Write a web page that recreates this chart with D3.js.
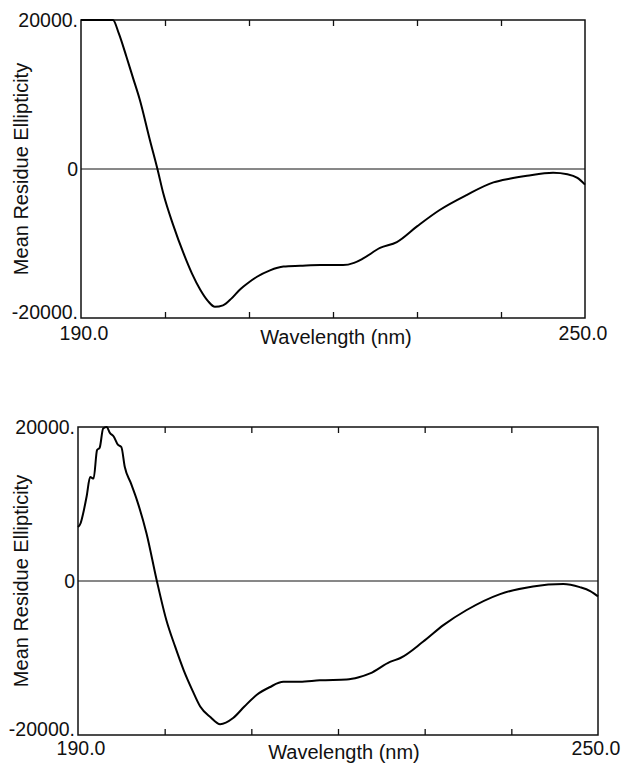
<!DOCTYPE html>
<html>
<head>
<meta charset="utf-8">
<script src="https://cdn.jsdelivr.net/npm/d3@7"></script>
<style>
  body { margin: 0; background: #fff; }
  svg { display: block; font-family: "Liberation Sans", Arial, sans-serif; }
</style>
</head>
<body>
<div id="chart"></div>
<script>
// CD spectra, wavelength (nm) vs mean residue ellipticity
const wlTop = [190, 191, 192, 193, 193.8, 194.5, 195.4, 196.2, 197.0, 198.2, 199.1, 199.8, 201.0, 202.2, 203.2, 204.2, 205.1, 205.95, 206.9, 207.9, 208.9, 210.0, 210.9, 212.5, 214.1, 216.1, 218.5, 221.2, 222.5, 223.6, 225.6, 227.6, 230.0, 232.7, 235.9, 239.1, 241.0, 243.1, 246.2, 247.9, 249.1, 250];
const mreTop = [20000, 20000, 20000, 20000, 20000, 18200, 15100, 12200, 9300, 3900, 0, -3300, -7600, -11300, -14000, -16200, -17700, -18500, -18300, -17400, -16200, -15200, -14500, -13600, -13100, -13000, -12900, -12900, -12600, -12000, -10600, -9800, -7700, -5500, -3500, -1800, -1300, -900, -500, -700, -1200, -2100];

const wlBottom = [190, 190.3, 190.6, 191.0, 191.4, 191.8, 192.2, 192.5, 192.9, 193.3, 193.7, 194.1, 194.6, 195.0, 195.4, 196.1, 196.8, 197.9, 199.1, 200.2, 201.2, 202.2, 203.2, 204.1, 205.3, 206.4, 207.9, 209.2, 210.6, 212.1, 213.7, 215.6, 217.9, 221.0, 222.4, 223.7, 226.0, 227.2, 229.8, 232.2, 234.8, 238.7, 242.5, 246.0, 247.9, 249.1, 250];
const mreBottom = [7000, 7500, 8800, 11000, 13500, 13300, 17000, 17300, 19800, 20000, 19200, 18800, 17700, 17400, 14800, 12700, 10500, 6200, 0, -5100, -8500, -11600, -14200, -16300, -17700, -18600, -17800, -16300, -14800, -13800, -13100, -13100, -12900, -12800, -12500, -12000, -10500, -10000, -7900, -5700, -3800, -1700, -700, -400, -800, -1300, -2000];

const xTicks = [200, 210, 220, 230, 240];
const yTickLabels = [[20000, "20000."], [0, "0"], [-20000, "-20000."]];
const xEndLabels = [[190, "190.0"], [250, "250.0"]];

const width = 621, height = 774;
const svg = d3.select("#chart").append("svg")
    .attr("width", width)
    .attr("height", height);

const panels = [
  {wl: wlTop, mre: mreTop, left: 81, right: 585, top: 20, bottom: 318, xLabX: 336, xLabY: 344, endY: 340},
  {wl: wlBottom, mre: mreBottom, left: 78, right: 598, top: 427, bottom: 735, xLabX: 344, xLabY: 759, endY: 755}
];

panels.forEach(p => {
  const x = d3.scaleLinear().domain([190, 250]).range([p.left, p.right]);
  const y = d3.scaleLinear().domain([-20000, 20000]).range([p.bottom, p.top]);
  const g = svg.append("g");

  // zero line
  g.append("line")
      .attr("x1", x(190)).attr("x2", x(250))
      .attr("y1", y(0)).attr("y2", y(0))
      .attr("stroke", "#111").attr("stroke-width", 1);

  // frame
  g.append("rect")
      .attr("x", p.left).attr("y", p.top)
      .attr("width", p.right - p.left).attr("height", p.bottom - p.top)
      .attr("fill", "none").attr("stroke", "#111").attr("stroke-width", 1.5);

  // inward ticks, top and bottom
  g.append("g")
      .attr("transform", `translate(0,${p.top})`)
      .call(d3.axisBottom(x).tickValues(xTicks).tickSize(6).tickFormat(""))
      .call(a => a.select(".domain").remove())
      .call(a => a.selectAll("line").attr("stroke", "#111").attr("stroke-width", 1.3));
  g.append("g")
      .attr("transform", `translate(0,${p.bottom})`)
      .call(d3.axisTop(x).tickValues(xTicks).tickSize(6).tickFormat(""))
      .call(a => a.select(".domain").remove())
      .call(a => a.selectAll("line").attr("stroke", "#111").attr("stroke-width", 1.3));

  // y labels
  g.selectAll(".ylab").data(yTickLabels).join("text")
      .attr("x", p.left - 3)
      .attr("y", d => y(d[0]))
      .attr("dy", d => d[0] === -20000 ? "0.05em" : "0.35em")
      .attr("text-anchor", "end")
      .attr("font-size", 19.5)
      .attr("fill", "#111")
      .text(d => d[1]);

  // x end labels
  g.selectAll(".xlab").data(xEndLabels).join("text")
      .attr("x", d => x(d[0]) + (d[0] === 190 ? 3 : -2))
      .attr("y", p.endY)
      .attr("text-anchor", "middle")
      .attr("font-size", 19.5)
      .attr("fill", "#111")
      .text(d => d[1]);

  g.append("text")
      .attr("x", p.xLabX).attr("y", p.xLabY)
      .attr("text-anchor", "middle")
      .attr("font-size", 20)
      .attr("fill", "#111")
      .text("Wavelength (nm)");

  g.append("text")
      .attr("transform", `translate(28,${(p.top + p.bottom) / 2}) rotate(-90)`)
      .attr("text-anchor", "middle")
      .attr("font-size", 20)
      .attr("fill", "#111")
      .text("Mean Residue Ellipticity");

  const line = d3.line()
      .x((d, i) => x(p.wl[i]))
      .y(d => y(Math.min(d, 20000)))
      .curve(d3.curveMonotoneX);

  g.append("path")
      .datum(p.mre)
      .attr("d", line)
      .attr("fill", "none")
      .attr("stroke", "#000")
      .attr("stroke-width", 2);
});
</script>
</body>
</html>
